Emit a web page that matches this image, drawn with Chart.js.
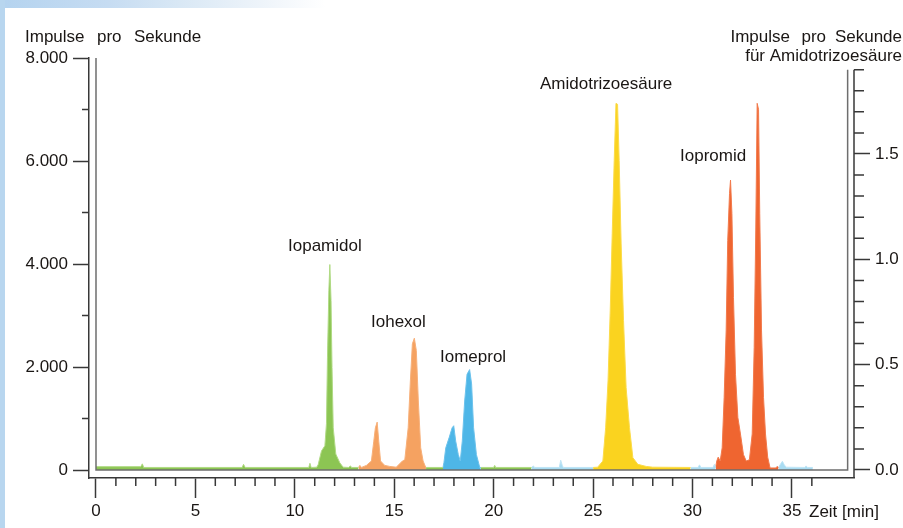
<!DOCTYPE html>
<html>
<head>
<meta charset="utf-8">
<script src="https://cdn.jsdelivr.net/npm/chart.js@4.4.1/dist/chart.umd.min.js"></script>
<style>
  body { margin: 0; background: #fff; }
  #wrap { position: relative; width: 903px; height: 528px; overflow: hidden; background: #fff; }
  #bandTop { position: absolute; left: 0; top: 0; width: 903px; height: 8px;
    background: linear-gradient(90deg, #b4d3ef 0%, #c6dcf2 12%, #d9e8f5 20%, #eef4fa 29%, #fff 36%); }
  #bandLeft { position: absolute; left: 0; top: 0; width: 5px; height: 528px; background: #b8d6ef; }
  canvas { position: absolute; left: 0; top: 0; }
</style>
</head>
<body>
<div id="wrap">
  <div id="bandTop"></div>
  <div id="bandLeft"></div>
  <canvas id="myChart" width="903" height="528"></canvas>
</div>
<script>
// Zeit [min] und Impulse pro Sekunde, je Farbabschnitt des Chromatogramms
const gruenZeit1 = [0, 2.25, 2.33, 2.4, 7.35, 7.42, 7.5, 10.7, 10.76, 10.82, 11.1, 11.17, 11.34, 11.51, 11.59, 11.64, 11.71, 11.76, 11.82, 11.87, 11.93, 12.06, 12.26, 12.43, 12.7, 12.8, 12.85, 13.2];
const gruenImp1 = [65, 65, 120, 50, 50, 110, 50, 50, 130, 50, 55, 100, 370, 470, 900, 2180, 3480, 3990, 3290, 1990, 820, 310, 140, 55, 50, 80, 50, 50];

const iohexolZeit = [13.2, 13.27, 13.35, 13.6, 13.85, 13.97, 14.05, 14.14, 14.22, 14.31, 14.52, 14.77, 15.1, 15.41, 15.53, 15.7, 15.81, 15.91, 16.01, 16.11, 16.21, 16.33, 16.45, 16.58, 16.6];
const iohexolImp = [50, 90, 50, 90, 175, 560, 820, 930, 560, 175, 90, 70, 55, 175, 200, 820, 1730, 2450, 2560, 2320, 1340, 430, 175, 55, 50];

const gruenZeit2 = [16.6, 17.45];
const gruenImp2 = [50, 50];

const iomeprolZeit = [17.45, 17.5, 17.59, 17.76, 17.91, 17.99, 18.09, 18.22, 18.32, 18.42, 18.54, 18.66, 18.79, 18.89, 18.99, 19.13, 19.3, 19.35];
const iomeprolImp = [50, 150, 430, 630, 820, 860, 560, 300, 175, 560, 1340, 1860, 1950, 1670, 820, 300, 50, 50];

const gruenZeit3 = [19.35, 20.0, 20.05, 20.1, 21.9];
const gruenImp3 = [50, 50, 90, 50, 50];

const blauZeit1 = [21.9, 22.0, 22.05, 23.3, 23.37, 23.45, 23.5, 25.0];
const blauImp1 = [50, 80, 50, 50, 190, 90, 50, 50];

const amidoZeit = [25.0, 25.23, 25.49, 25.63, 25.75, 25.86, 25.96, 26.06, 26.15, 26.23, 26.31, 26.41, 26.53, 26.66, 26.83, 27.0, 27.25, 27.67, 28.0, 29.9];
const amidoImp = [50, 55, 175, 820, 1730, 3090, 4590, 6010, 7120, 7100, 6010, 4390, 2900, 1600, 820, 240, 110, 70, 55, 50];

const blauZeit2 = [29.9, 30.28, 30.35, 30.42, 31.03, 31.1, 31.16];
const blauImp2 = [50, 50, 100, 50, 50, 110, 50];

const iopromidZeit = [31.16, 31.22, 31.29, 31.39, 31.49, 31.59, 31.69, 31.77, 31.86, 31.91, 31.98, 32.06, 32.16, 32.28, 32.41, 32.56, 32.7, 32.86, 33.0, 33.1, 33.18, 33.25, 33.32, 33.38, 33.47, 33.57, 33.67, 33.78, 33.9, 34.2, 34.25, 34.32];
const iopromidImp = [50, 175, 250, 175, 430, 1410, 2700, 4460, 5370, 5630, 4980, 3350, 1860, 1020, 700, 300, 175, 200, 700, 2380, 4660, 7120, 7000, 4980, 2700, 1410, 700, 250, 40, 40, 70, 50];

const blauZeit3 = [34.32, 34.45, 34.52, 34.6, 34.7, 35.65, 35.71, 35.78, 36.05];
const blauImp3 = [50, 130, 170, 110, 55, 50, 80, 50, 50];

const xTicks = [0, 5, 10, 15, 20, 25, 30, 35];
const yTicks = [0, 2000, 4000, 6000, 8000];
const yTickLabels = ["0", "2.000", "4.000", "6.000", "8.000"];
const y2Ticks = [0, 0.5, 1, 1.5];
const y2TickLabels = ["0.0", "0.5", "1.0", "1.5"];

const TEXT = "#1a1614";
const AXIS = "#383838";
Chart.defaults.font.family = "'Liberation Sans', Arial, sans-serif";
Chart.defaults.font.size = 17;
Chart.defaults.color = TEXT;

function serie(zeit, imp, fillCol, lineCol) {
  return {
    data: zeit.map((t, i) => ({ x: t, y: imp[i] })),
    backgroundColor: fillCol,
    borderColor: lineCol,
    borderWidth: 1,
    fill: "origin",
    pointRadius: 0,
    tension: 0,
  };
}

// Rahmen, Nebenstriche und Beschriftungen
const rahmen = {
  id: "rahmen",
  afterDatasetsDraw(chart) {
    const { ctx, chartArea: a } = chart;
    const { x, y, y2 } = chart.scales;
    const fl = x.getPixelForValue(0);
    const fr = x.getPixelForValue(37.8);
    const fb = y.getPixelForValue(0);
    const ft = y2.getPixelForValue(1.9);
    ctx.save();
    ctx.lineWidth = 1.5;
    ctx.strokeStyle = "#6e6e6e";
    ctx.beginPath();
    ctx.moveTo(fl, a.top);
    ctx.lineTo(fl, fb);
    ctx.lineTo(fr, fb);
    ctx.lineTo(fr, ft);
    ctx.stroke();

    ctx.strokeStyle = AXIS;
    ctx.beginPath();
    ctx.moveTo(a.right, ft);
    ctx.lineTo(a.right, a.bottom);
    // Nebenstriche
    for (let m = 1; m <= 36; m++) {
      if (m % 5 === 0) continue;
      const px = x.getPixelForValue(m);
      ctx.moveTo(px, a.bottom);
      ctx.lineTo(px, a.bottom + 8);
    }
    for (let v = 1000; v < 8000; v += 2000) {
      const py = y.getPixelForValue(v);
      ctx.moveTo(a.left - 7, py);
      ctx.lineTo(a.left, py);
    }
    for (let k = 1; k <= 19; k++) {
      if (k % 5 === 0) continue;
      const py = y2.getPixelForValue(k / 10);
      ctx.moveTo(a.right, py);
      ctx.lineTo(a.right + 10, py);
    }
    ctx.stroke();

    ctx.fillStyle = TEXT;
    ctx.font = "17px 'Liberation Sans', Arial, sans-serif";
    ctx.textBaseline = "alphabetic";
    ctx.textAlign = "left";
    ctx.fillText("Iopamidol", 288, 251);
    ctx.fillText("Iohexol", 371, 327);
    ctx.fillText("Iomeprol", 440, 362);
    ctx.fillText("Amidotrizoesäure", 540, 89);
    ctx.fillText("Iopromid", 680, 161);
    ctx.fillText("Zeit [min]", 809, 517);

    // Achsentitel mit weitem Wortabstand
    ctx.fillText("Impulse", 25, 42);
    ctx.fillText("pro", 97, 42);
    ctx.fillText("Sekunde", 134, 42);
    ctx.textAlign = "right";
    ctx.fillText("Sekunde", 902, 42);
    ctx.fillText("pro", 826, 42);
    ctx.fillText("Impulse", 790, 42);
    ctx.fillText("für Amidotrizoesäure", 902, 61);
    ctx.restore();
  },
};

new Chart(document.getElementById("myChart"), {
  type: "line",
  data: {
    datasets: [
      serie(gruenZeit1, gruenImp1, "#8cc553", "#b0da84"),
      serie(iohexolZeit, iohexolImp, "#f5a261", "#f7b07a"),
      serie(gruenZeit2, gruenImp2, "#8cc553", "#b0da84"),
      serie(iomeprolZeit, iomeprolImp, "#4eb6e7", "#6cc2ec"),
      serie(gruenZeit3, gruenImp3, "#8cc553", "#b0da84"),
      serie(blauZeit1, blauImp1, "#a9dcf2", "#bfe5f6"),
      serie(amidoZeit, amidoImp, "#fad31f", "#fbdb4a"),
      serie(blauZeit2, blauImp2, "#a9dcf2", "#bfe5f6"),
      serie(iopromidZeit, iopromidImp, "#ef6530", "#f27a4c"),
      serie(blauZeit3, blauImp3, "#a9dcf2", "#bfe5f6"),
    ],
  },
  options: {
    responsive: false,
    animation: false,
    layout: { padding: { top: 58, left: 0, right: 0, bottom: 0 } },
    plugins: { legend: { display: false }, tooltip: { enabled: false } },
    scales: {
      x: {
        type: "linear",
        min: -0.352,
        max: 38.12,
        afterFit: (s) => { s.height = 50; },
        afterBuildTicks: (s) => { s.ticks = xTicks.map((v) => ({ value: v })); },
        ticks: { autoSkip: false, maxRotation: 0, padding: 3, color: TEXT },
        grid: { drawOnChartArea: false, tickLength: 20, tickWidth: 1.5, tickColor: AXIS },
        border: { display: true, color: AXIS, width: 1.5 },
      },
      y: {
        position: "left",
        min: -155,
        max: 8000,
        afterFit: (s) => { s.width = 89; },
        afterBuildTicks: (s) => { s.ticks = yTicks.map((v) => ({ value: v })); },
        ticks: { padding: 5, color: TEXT, callback: (v, i) => yTickLabels[i] },
        grid: { drawOnChartArea: false, tickLength: 16, tickWidth: 1.5, tickColor: AXIS },
        border: { display: true, color: AXIS, width: 1.5 },
      },
      y2: {
        position: "right",
        min: -0.038,
        max: 1.9555,
        afterFit: (s) => { s.width = 49; },
        afterBuildTicks: (s) => { s.ticks = y2Ticks.map((v) => ({ value: v })); },
        ticks: { padding: 5, color: TEXT, callback: (v, i) => y2TickLabels[i] },
        grid: { drawOnChartArea: false, tickLength: 16, tickWidth: 1.5, tickColor: AXIS },
        border: { display: false },
      },
    },
  },
  plugins: [rahmen],
});
</script>
</body>
</html>
